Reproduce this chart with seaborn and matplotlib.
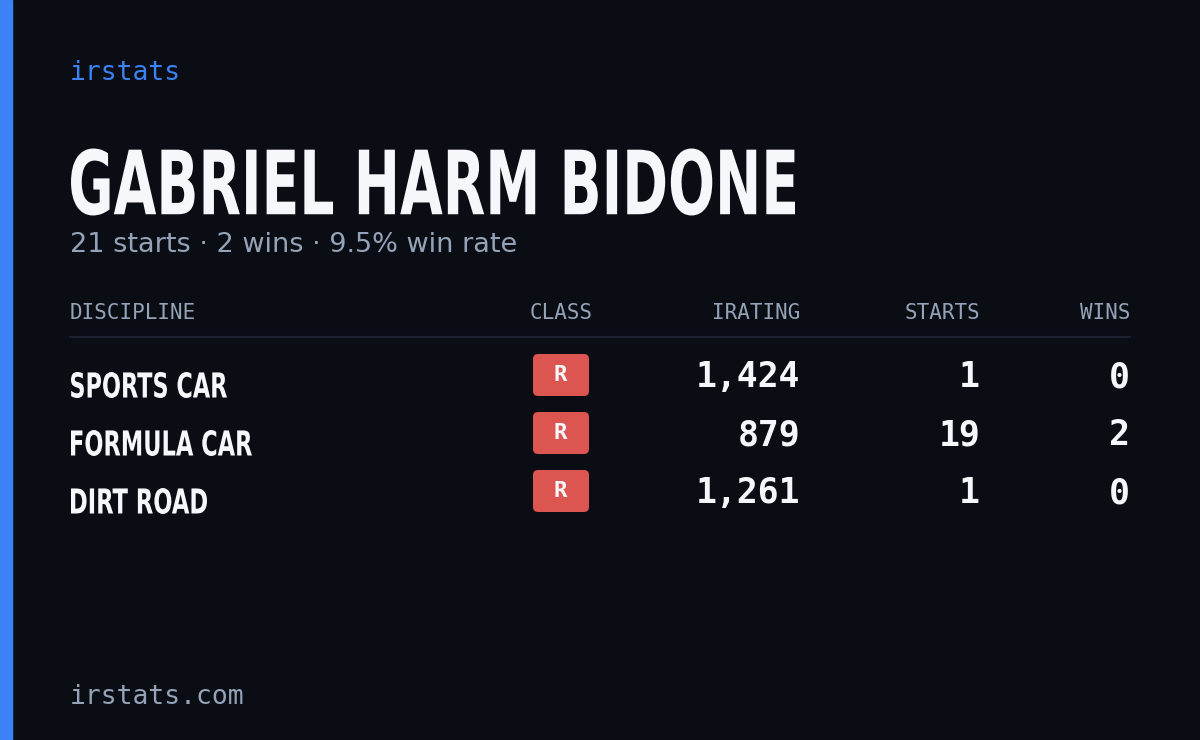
import matplotlib.pyplot as plt
import seaborn as sns
import matplotlib.transforms as mt
from matplotlib.patches import FancyBboxPatch, Rectangle, PathPatch
from matplotlib.textpath import TextPath
from matplotlib.font_manager import FontProperties, fontManager

disciplines = ["SPORTS CAR", "FORMULA CAR", "DIRT ROAD"]
classes = ["R", "R", "R"]
iratings = [1424, 879, 1261]
starts = [1, 19, 1]
wins = [0, 2, 0]
headers = ["DISCIPLINE", "CLASS", "IRATING", "STARTS", "WINS"]
driver = "GABRIEL HARM BIDONE"

BG = "#0a0d14"
BLUE = "#3b82f6"
GREY = "#94a3b8"
WHITE = "#f5f7fa"
RED = "#dc5550"

sns.set_theme(style="white")
plt.rcParams["font.family"] = ["DejaVu Sans"]
names = {f.name for f in fontManager.ttflist}
NARROW = [n for n in ["Liberation Sans Narrow", "DejaVu Sans Condensed"] if n in names] or ["DejaVu Sans"]
MONO = ["DejaVu Sans Mono"]

fig = plt.figure(figsize=(12, 7.4), dpi=100, facecolor=BG)
ax = fig.add_axes([0, 0, 1, 1])
ax.set_xlim(0, 1200)
ax.set_ylim(740, 0)
ax.axis("off")
ax.add_patch(Rectangle((0, 0), 12, 740, color=BLUE))


def narrow_text(x, y, s, cap_h, target_w):
    # bold condensed text squeezed to a pixel width and cap height
    fp = FontProperties(family=NARROW, weight="bold", stretch="condensed")
    tp = TextPath((0, 0), s, size=100, prop=fp)
    ext = tp.get_extents()
    sx = target_w / ext.width
    sy = -cap_h / ext.height
    tr = (mt.Affine2D().translate(-ext.x0, -(ext.y0 + ext.y1) / 2)
          .scale(sx, sy).translate(x, y))
    ax.add_patch(PathPatch(tr.transform_path(tp), color=WHITE, lw=0))


ax.text(70, 73, "irstats", color=BLUE, fontsize=19, family=MONO, va="center")
narrow_text(71, 182, driver, 67, 724)
total_starts = sum(starts)
total_wins = sum(wins)
ax.text(70, 245, f"{total_starts} starts · {total_wins} wins · "
        f"{100 * total_wins / total_starts:.1f}% win rate",
        color=GREY, fontsize=19.5, va="center")

# header row
hx = [(70, "left"), (593, "right"), (800, "right"), (980, "right"), (1130, "right")]
for (x, ha), h in zip(hx, headers):
    ax.text(x, 313, h, color=GREY, fontsize=15, family=MONO, ha=ha, va="center")
ax.plot([70, 1130], [337, 337], color="#1c2230", lw=1.5)

widths = [156, 181, 136]
for i, (d, c, ir, s, w) in enumerate(zip(disciplines, classes, iratings, starts, wins)):
    y = 377 + 58 * i
    narrow_text(71, y + 8, d, 26, widths[i])
    ax.add_patch(FancyBboxPatch((533, y - 23), 56, 42,
                                boxstyle="round,pad=0,rounding_size=5",
                                color=RED, lw=0))
    ax.text(560, y - 2, c, color=WHITE, fontsize=16, family=MONO,
            fontweight="bold", ha="center", va="center")
    for x, v in [(800, f"{ir:,}"), (980, str(s)), (1130, str(w))]:
        ax.text(x, y, v, color=WHITE, fontsize=25, family=MONO,
                fontweight="bold", ha="right", va="center")

ax.text(70, 697, "irstats.com", color=GREY, fontsize=19, family=MONO, va="center")

fig.savefig("out.png", dpi=100, facecolor=BG)
